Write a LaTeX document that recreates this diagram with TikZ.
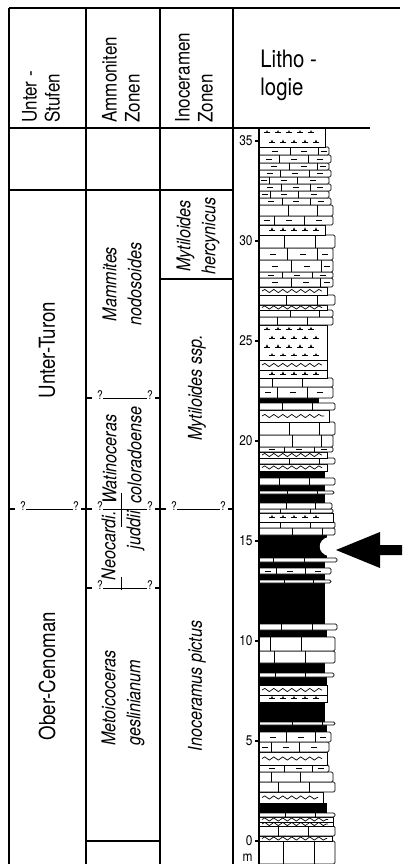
\documentclass[tikz,border=0pt]{standalone}
\usepackage{fontspec}
\setmainfont{TeX Gyre Heros}[FakeStretch=0.85]
\usetikzlibrary{decorations.pathmorphing}

\tikzset{
  frame/.style={line width=0.7pt},
  border/.style={line width=1.2pt},
  bedline/.style={line width=0.35pt},
  hdr/.style={rotate=90,anchor=west,align=left,inner sep=0pt,font=\fontsize{10}{11.5}\selectfont},
  stage/.style={rotate=90,inner sep=0pt,font=\fontsize{11}{13}\selectfont},
  zone/.style={rotate=90,inner sep=0pt,font=\fontsize{9.5}{12.5}\selectfont\itshape},
  qmark/.style={anchor=south,inner sep=0pt,font=\fontsize{6}{6}\selectfont},
  scalelab/.style={anchor=east,inner sep=1pt,font=\fontsize{7}{8}\selectfont},
}

% beds: #1 base (m), #2 top (m), #3 width (px)
\newcommand\bedlime[3]{%
  \draw[bedline,fill=white,rounded corners=0.7pt] (0,#1) -- (#3,#1) -- (#3,#2) -- (0,#2);
  \pgfmathsetmacro\bx{(0.15+0.3*frac(abs(#1)*1.37))*#3}
  \draw[bedline] (\bx,#1) -- (\bx,#2) ({\bx+0.4*#3},#1) -- ({\bx+0.4*#3},#2);}
\newcommand\bedmarl[3]{%
  \bedlime{#1}{#2}{#3}
  \pgfmathsetmacro\ym{(#1+#2)/2}
  \draw[bedline] ({\bx/2-3},\ym) -- ({\bx/2+3},\ym)
    ({\bx+0.2*#3-3},\ym) -- ({\bx+0.2*#3+3},\ym)
    ({(\bx+1.4*#3)/2-3},\ym) -- ({(\bx+1.4*#3)/2+3},\ym);}
\newcommand\bednod[3]{%
  \draw[bedline,fill=white] (0,#1) -- (#3,#1) -- (#3,#2) -- (0,#2);
  \draw[bedline,decorate,decoration={snake,amplitude=0.8pt,segment length=4.5pt}]
    (3,{(#1+#2)/2}) -- ({#3-5},{(#1+#2)/2});}
\newcommand\bedtuff[3]{%
  \draw[bedline,fill=white] (0,#1) -- (#3,#1) -- (#3,#2) -- (0,#2);
  \pgfmathtruncatemacro\nrow{max(1,round((#2-#1)/0.4))}
  \foreach \ir in {1,...,\nrow}{
    \pgfmathsetmacro\yt{#1+(\ir-0.5)*(#2-#1)/\nrow}
    \foreach \ic in {0,...,4}{
      \pgfmathsetmacro\xt{8+\ic*11+5*mod(\ir,2)}
      \draw[bedline] (\xt-3,\yt) -- (\xt+3,\yt);
      \fill (\xt-1.2,\yt) -- (\xt,\yt+0.13) -- (\xt+1.2,\yt) -- cycle;}}}
\newcommand\bedshale[3]{\fill (0,#1) rectangle (#3,#2);}

\begin{document}
\begin{tikzpicture}[x=0.5pt,y=-0.5pt]
\useasboundingbox (0,0) rectangle (404,864);

% table frame
\draw[border] (9,8) -- (9,864);
\draw[frame] (9,8) -- (400,8);
\draw[frame] (9,128) -- (370,128);
\draw[frame] (9,190) -- (233,190);
\foreach \x in {86,160,233} \draw[frame] (\x,8) -- (\x,864);
\draw[frame] (160,279) -- (233,279);
\draw[frame] (86,841) -- (160,841);

% headers
\node[hdr] (hdrstufe) at (41,123) {Unter -\\Stufen};
\node[hdr] (hdramm) at (121,123) {Ammoniten\\Zonen};
\node[hdr] (hdrino) at (194,123) {Inoceramen\\Zonen};
\node[anchor=north west,align=left,inner sep=0pt,font=\fontsize{12}{14}\selectfont] (hdrlith) at (260,50) {Litho -\\logie};

% stages
\node[stage] (turon) at (47,350) {Unter-Turon};
\node[stage] (cenoman) at (47,676) {Ober-Cenoman};

% zones
\node[zone,align=center] (zmam) at (122,284) {Mammites\\nodosoides};
\node[zone,anchor=west,align=left] (zwat) at (122,504) {Watinoceras\\coloradoense};
\node[zone,anchor=east,align=right] (zneo) at (123,511) {Neocardi.\\juddii};
\node[zone,anchor=west,align=left] (zmet) at (123,746) {Metoicoceras\\geslinianum};
\node[zone,align=center] (zher) at (198,236) {Mytiloides\\hercynicus};
\node[zone] (zmyt) at (197,388) {Mytiloides ssp.};
\node[zone] (zino) at (197,686) {Inoceramus pictus};

% uncertain boundaries
\foreach \xa/\xb/\yy/\nm in {86/160/398/wm, 9/86/509/ta, 86/160/509/tb, 160/233/509/tc, 86/160/588/nm}{
  \node[qmark] (\nm-l) at (\xa+14,\yy+1.5) {?};
  \node[qmark] (\nm-r) at (\xb-10,\yy+1.5) {?};
  \draw[frame] (\xa,\yy) -- (\xa+6,\yy);
  \draw[frame] (\xb-5,\yy) -- (\xb,\yy);
  \draw[bedline] (\nm-l.east |- \xa,\yy) -- (\nm-r.west |- \xb,\yy);
}
\draw[bedline] (121,493) -- (121,527);
\draw[bedline] (121,577) -- (121,590);

% lithology column, 1 m = 20 px
\begin{scope}[shift={(259,841)},y=10pt]
\foreach \ya/\yb/\ty/\bw in {
  -1.15/0/lime/76, 0/0.25/nod/73, 0.25/0.75/lime/76, 0.75/0.95/nod/74,
  0.95/1.2/nod/74, 1.2/1.4/lime/76, 1.4/1.9/shale/68, 1.9/2.45/nod/64,
  2.45/2.95/lime/76, 2.95/3.45/lime/74, 3.45/3.8/marl/70, 3.8/4.45/nod/68,
  4.45/4.95/marl/70, 4.95/5.45/marl/72, 5.45/5.8/shale/68, 5.8/5.95/lime/76,
  5.95/6.95/shale/66, 6.95/7.3/tuff/68, 7.3/7.8/nod/68, 7.8/8.2/shale/68,
  8.2/8.4/lime/75, 8.4/8.9/shale/66, 8.9/9.5/lime/76, 9.5/10.2/lime/76,
  10.2/10.55/shale/68, 10.55/10.85/lime/78, 10.85/12.9/shale/66, 12.9/13.05/lime/72,
  13.05/13.35/shale/66, 13.35/13.65/marl/72, 13.65/13.95/shale/66, 13.95/14.15/lime/78,
  14.15/15.3/shale/68, 15.3/15.65/lime/76, 15.65/15.95/lime/76, 15.95/16.4/tuff/74,
  16.4/16.6/lime/74, 16.6/16.9/lime/73, 16.9/17.35/shale/66, 17.35/17.5/lime/75,
  17.5/17.8/shale/66, 17.8/18.15/lime/76, 18.15/18.5/shale/66, 18.5/18.85/nod/68,
  18.85/19.15/lime/76, 19.15/19.45/nod/68, 19.45/19.7/marl/74, 19.7/20.3/lime/74,
  20.3/20.95/lime/76, 20.95/21.55/nod/70, 21.55/21.9/lime/76, 21.9/22.15/shale/60,
  22.15/22.7/marl/74, 22.7/23.15/lime/74, 23.15/23.55/tuff/68, 23.55/24.05/nod/68,
  24.05/25.8/tuff/68, 25.8/26.2/lime/74, 26.2/26.55/lime/74, 26.55/26.8/nod/68,
  26.8/27.3/lime/76, 27.3/27.7/nod/68, 27.7/28.15/marl/74, 28.15/28.45/marl/74,
  28.45/29.05/marl/74, 29.05/29.65/marl/74, 29.65/30.3/lime/76, 30.3/30.8/tuff/66,
  30.8/31.25/marl/74, 31.25/31.8/lime/74, 31.8/32.15/marl/72, 32.15/32.5/marl/70,
  32.5/32.85/marl/72, 32.85/33.2/marl/70, 33.2/33.55/marl/72, 33.55/33.9/marl/70,
  33.9/34.3/marl/72, 34.3/34.7/marl/70, 34.7/35.65/tuff/66}
  {\csname bed\ty\endcsname{\ya}{\yb}{\bw}}
% weathering notch
\fill[white] (69,14.25) .. controls (58,14.4) and (58,15.05) .. (69,15.2) -- cycle;
% scale
\draw[frame] (0,-1.15) -- (0,35.65);
\foreach \m in {0,5,...,35}{
  \draw[frame] (-4,\m) -- (0,\m);
  \node[scalelab] (tick-\m) at (-4,\m) {\m};}
\node[scalelab] (unit) at (-4,-0.85) {m};
\end{scope}

% marker arrow
\coordinate (arrowtip) at (336,550);
\fill (arrowtip) -- (380,532) -- (380,545) -- (402,545) -- (402,555) -- (380,555) -- (380,568) -- cycle;
\end{tikzpicture}
\end{document}
